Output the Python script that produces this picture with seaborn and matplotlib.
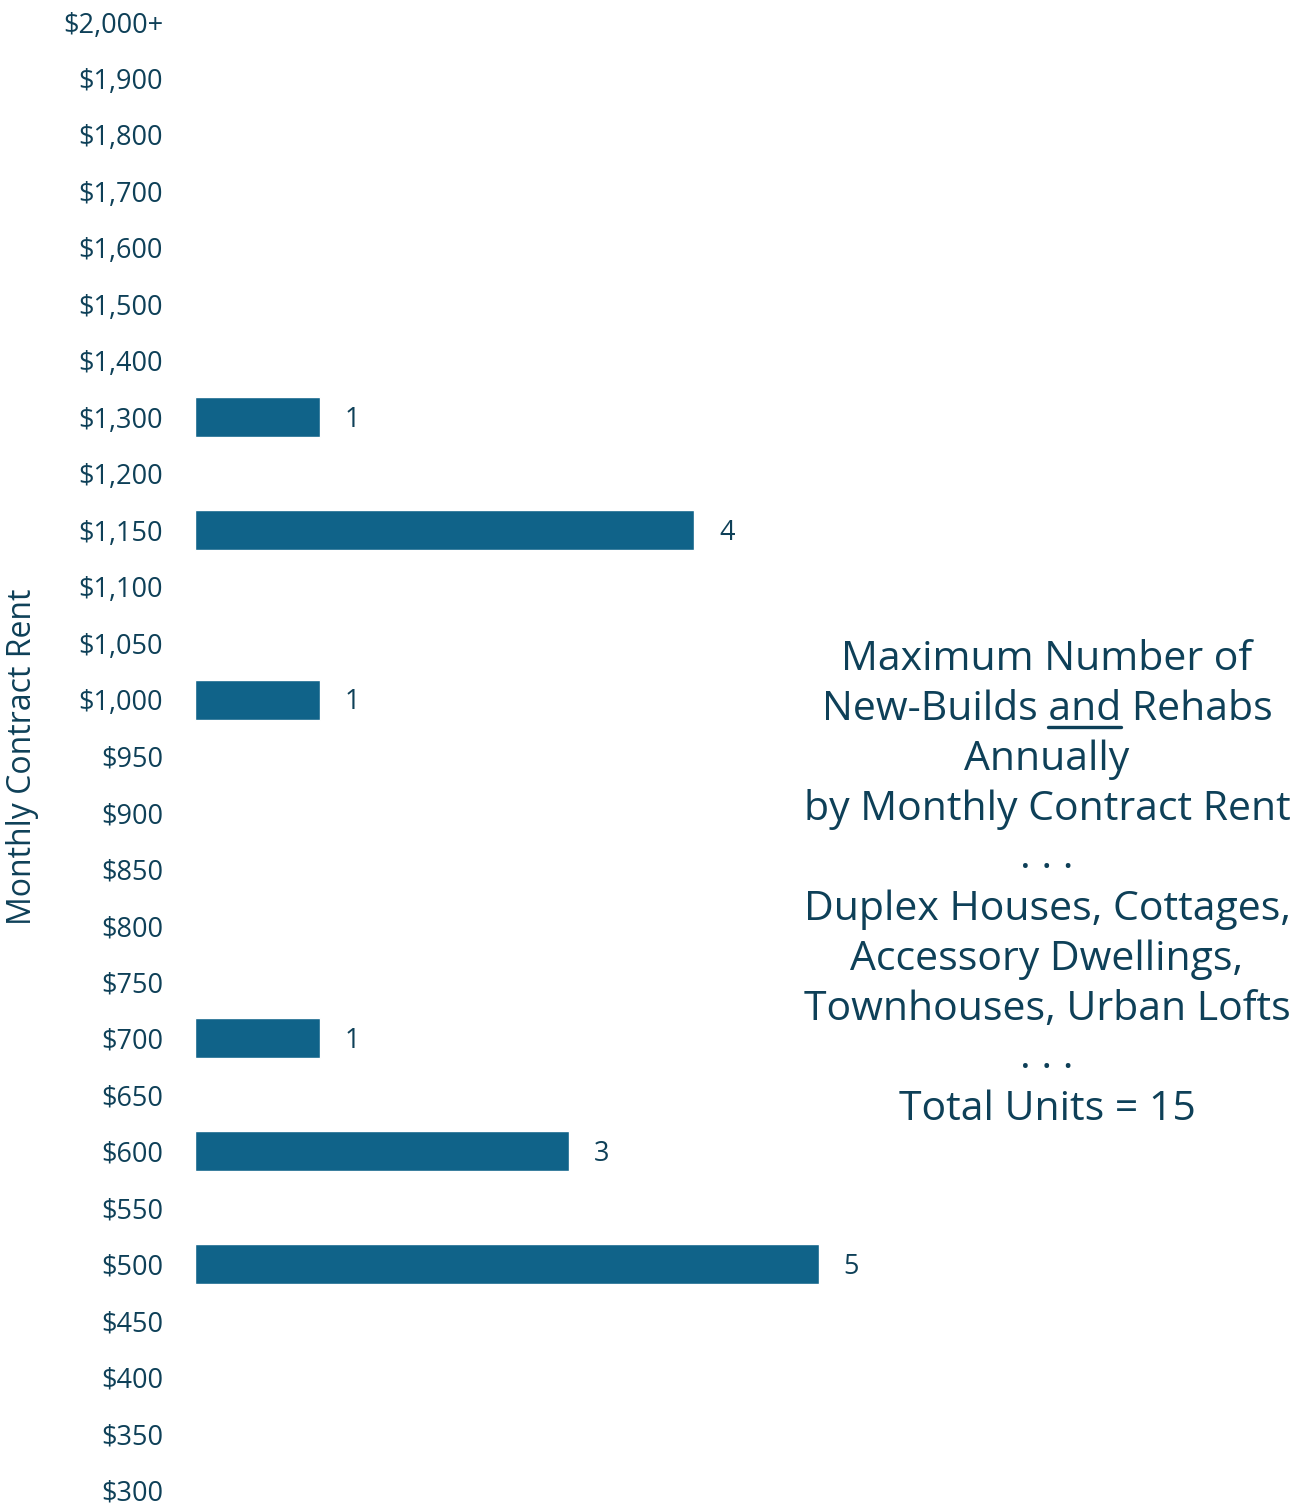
"""Horizontal bar chart: new-builds and rehabs by monthly contract rent."""
import pandas as pd
import matplotlib
matplotlib.use("Agg")
import matplotlib.pyplot as plt
from matplotlib.lines import Line2D
import seaborn as sns

rent_levels = ["$2,000+", "$1,900", "$1,800", "$1,700", "$1,600", "$1,500",
               "$1,400", "$1,300", "$1,200", "$1,150", "$1,100", "$1,050",
               "$1,000", "$950", "$900", "$850", "$800", "$750", "$700",
               "$650", "$600", "$550", "$500", "$450", "$400", "$350", "$300"]
units = [0, 0, 0, 0, 0, 0, 0, 1, 0, 4, 0, 0, 1, 0, 0, 0, 0, 0, 1,
         0, 3, 0, 5, 0, 0, 0, 0]

BAR = "#106389"
INK = "#0E4058"
W, H = 1314, 1506

df = pd.DataFrame({"rent": rent_levels, "units": units})

sns.set_theme(style="white")
plt.rcParams["font.family"] = ["Open Sans", "DejaVu Sans"]

fig = plt.figure(figsize=(W / 100, H / 100), dpi=100)
ax = fig.add_axes([195 / W, 0, 1 - 195 / W, 1])

sns.barplot(data=df, x="units", y="rent", order=rent_levels, color=BAR,
            saturation=1, width=0.71, ax=ax)

ax.set_xlim(0, 8.97)
ax.set_ylim(26.28, -0.39)
sns.despine(ax=ax, left=True, bottom=True)
ax.set_xticks([])
ax.set_xlabel("")
ax.set_ylabel("")
ax.tick_params(axis="y", length=0, pad=23, labelsize=19.5, labelcolor=INK)

for i, v in enumerate(units):
    if v > 0:
        ax.text(v + 0.2, i + 0.05, str(v), va="center", ha="left",
                fontsize=19.5, color=INK)

fig.text(23 / W, 1 - 757 / H, "Monthly Contract Rent", rotation=90,
         ha="center", va="center", fontsize=23, color=INK)

lines = ["Maximum Number of",
         "New-Builds and Rehabs",
         "Annually",
         "by Monthly Contract Rent",
         ". . .",
         "Duplex Houses, Cottages,",
         "Accessory Dwellings,",
         "Townhouses, Urban Lofts",
         ". . .",
         "Total Units = 15"]
line_y = [660, 710, 760, 810, 858, 910, 960, 1010, 1058, 1110]
title_size = 29.5
texts = []
for line, y_px in zip(lines, line_y):
    t = fig.text(1047 / W, 1 - y_px / H, line, ha="center", va="center",
                 fontsize=title_size, color=INK)
    texts.append(t)

# underline the word "and" in the second line
renderer = fig.canvas.get_renderer()
full = texts[1].get_window_extent(renderer)


def text_width(s):
    tmp = fig.text(0, 0, s, fontsize=title_size)
    w = tmp.get_window_extent(renderer).width
    tmp.remove()
    return w


x_end = full.x0 + text_width("New-Builds and")
x_start = x_end - text_width("and")
y_line = full.y0 + 3
fig.add_artist(Line2D([x_start / W, x_end / W], [y_line / H, y_line / H],
                      color=INK, lw=2.4, transform=fig.transFigure))

fig.savefig("out.png", dpi=100, facecolor="white")
